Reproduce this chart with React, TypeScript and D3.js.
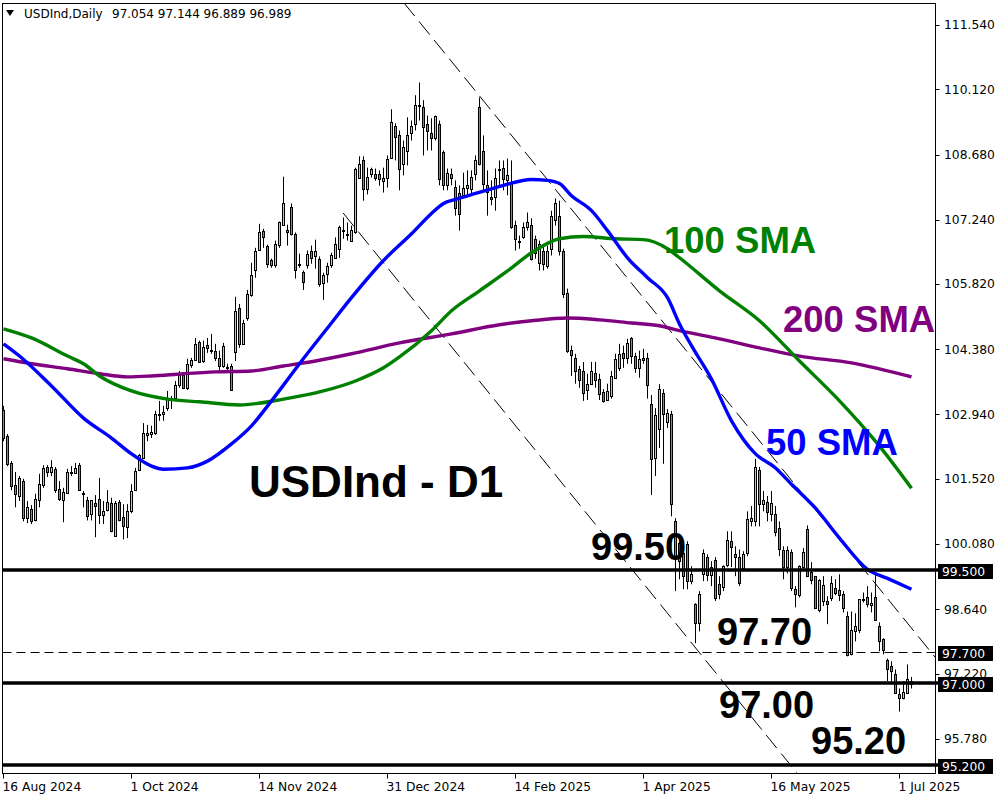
import React from 'react';
import * as d3 from 'd3';

// [open, high, low, close] per daily bar
const candles: [number, number, number, number][] = [
  [103.04,103.13,102.35,102.42],[102.46,102.51,101.80,101.85],[101.87,101.91,101.27,101.36],[101.38,101.67,100.89,101.19],
  [101.14,101.58,101.03,101.54],[101.47,101.52,100.58,100.65],[100.65,101.03,100.54,100.89],[100.85,100.94,100.52,100.58],
  [100.60,101.19,100.58,101.08],[101.05,101.63,100.89,101.40],[101.38,101.82,101.32,101.76],[101.78,101.82,101.56,101.67],
  [101.67,101.93,101.58,101.78],[101.74,101.78,101.21,101.27],[101.30,101.47,101.03,101.08],[101.05,101.32,100.56,101.23],
  [101.21,101.74,101.19,101.67],[101.67,101.80,101.58,101.66],[101.65,101.87,101.63,101.76],[101.82,101.87,101.25,101.27],
  [101.21,101.25,100.89,101.20],[101.05,101.12,100.60,100.69],[100.74,101.05,100.60,101.05],[100.98,101.16,100.23,100.92],
  [101.08,101.54,100.52,100.72],[100.72,101.03,100.52,100.80],[100.83,101.27,100.80,101.00],[100.98,101.10,100.34,100.36],
  [100.25,101.03,100.25,100.98],[101.00,101.05,100.58,100.60],[100.67,100.96,100.18,100.47],[100.45,100.96,100.21,100.80],
  [100.80,101.40,100.76,101.25],[101.27,101.76,101.25,101.69],[101.71,102.07,101.69,102.05],[101.98,102.75,101.96,102.53],
  [102.49,102.71,102.35,102.53],[102.51,102.69,102.42,102.55],[102.53,103.02,102.49,102.95],[102.95,103.24,102.80,102.96],
  [102.95,103.13,102.80,103.00],[103.08,103.46,103.02,103.31],[103.31,103.35,103.06,103.29],[103.31,103.68,103.24,103.59],
  [103.59,103.90,103.53,103.81],[103.81,103.86,103.50,103.53],[103.53,104.17,103.48,104.06],[104.04,104.19,103.97,104.15],
  [104.15,104.63,104.12,104.50],[104.54,104.57,104.08,104.10],[104.12,104.57,104.08,104.43],[104.48,104.63,104.30,104.41],
  [104.35,104.72,104.28,104.37],[104.35,104.50,104.12,104.19],[104.19,104.35,103.86,104.01],[104.01,104.52,103.97,104.46],
  [103.99,104.06,103.90,103.97],[104.01,104.06,103.48,103.48],[104.32,105.54,104.12,105.23],[105.30,105.38,104.41,104.50],
  [104.50,105.03,104.50,104.97],[105.08,105.69,105.01,105.60],[105.58,106.29,105.54,106.03],[106.14,106.62,105.96,106.56],
  [106.58,107.15,106.56,106.96],[107.00,107.04,106.62,106.85],[106.67,106.69,106.18,106.27],[106.34,106.38,106.18,106.23],
  [106.23,106.78,106.18,106.71],[106.69,107.20,106.62,107.18],[107.13,108.19,107.11,107.60],[107.02,107.13,106.67,106.98],
  [107.53,107.60,106.89,106.93],[106.93,106.96,105.94,106.14],[106.27,106.49,106.18,106.23],[106.09,106.12,105.69,105.87],
  [106.23,106.56,106.16,106.49],[106.56,106.67,106.27,106.40],[106.43,106.80,106.16,106.54],[106.38,106.43,105.76,105.82],
  [105.85,106.07,105.47,106.03],[106.05,106.29,105.85,106.21],[106.23,106.51,106.18,106.47],[106.40,106.85,106.38,106.71],
  [106.60,107.11,106.40,107.07],[107.00,107.29,106.82,107.02],[106.93,107.18,106.78,106.91],[106.78,107.11,106.76,107.02],
  [106.96,108.39,106.93,108.37],[108.17,108.64,108.15,108.48],[108.57,108.64,107.66,107.91],[107.91,108.39,107.80,108.19],
  [108.26,108.39,108.17,108.35],[108.26,108.37,108.10,108.17],[108.24,108.33,107.99,108.13],[108.10,108.39,107.84,108.17],
  [108.17,108.66,107.95,108.59],[108.61,109.68,108.59,109.39],[109.30,109.37,108.55,109.06],[109.12,109.21,107.89,108.37],
  [108.48,108.99,108.22,108.84],[108.75,109.50,108.44,109.12],[109.15,109.43,108.99,109.30],[109.35,109.99,109.21,109.77],
  [109.77,110.27,109.43,109.75],[109.72,109.88,108.66,109.28],[109.35,109.54,108.77,109.19],[109.15,109.48,108.77,109.04],
  [109.04,109.54,108.99,109.52],[109.35,109.43,108.00,108.13],[108.73,108.77,107.89,108.00],[108.00,108.37,107.89,108.28],
  [108.26,108.37,108.00,108.17],[107.97,108.11,107.33,107.49],[107.82,108.00,107.00,107.36],[107.78,108.28,107.71,107.93],
  [107.95,108.33,107.78,108.00],[107.91,108.33,107.78,108.19],[108.24,108.66,108.11,108.55],[109.74,109.94,108.44,108.48],
  [108.75,109.10,107.89,108.02],[108.00,108.33,107.33,107.86],[107.75,108.11,107.56,107.69],[107.75,108.37,107.44,108.17],
  [108.35,108.55,108.00,108.34],[108.39,108.55,107.89,108.13],[108.11,108.59,107.78,108.22],[108.06,108.55,107.04,107.09],
  [107.13,107.22,106.56,106.82],[106.78,106.89,106.60,106.76],[106.85,107.18,106.82,107.09],[107.07,107.40,107.00,107.20],
  [107.13,107.27,106.34,106.38],[106.82,106.89,106.38,106.51],[106.29,106.78,106.12,106.71],[106.56,106.67,106.12,106.27],
  [106.21,106.67,106.16,106.54],[106.60,107.44,106.45,107.33],[107.24,107.71,107.11,107.60],[107.33,107.66,106.45,106.56],
  [106.56,106.60,105.51,105.60],[105.63,105.72,104.30,104.35],[104.37,104.46,103.79,104.26],[104.19,104.28,103.62,103.90],
  [103.95,104.01,103.53,103.70],[103.90,104.10,103.24,103.42],[103.48,103.84,103.26,103.62],[103.62,104.10,103.59,103.90],
  [103.86,104.10,103.53,103.70],[103.73,103.84,103.26,103.40],[103.44,103.50,103.20,103.24],[103.26,103.62,103.24,103.46],
  [103.35,103.90,103.29,103.79],[103.75,104.28,103.73,104.17],[103.97,104.50,103.90,104.28],[104.30,104.46,103.97,104.19],
  [104.19,104.61,104.06,104.52],[104.63,104.65,104.06,104.23],[104.23,104.30,103.86,103.97],[103.97,104.35,103.75,104.17],
  [104.19,104.39,104.06,104.15],[104.19,104.30,103.29,103.59],[103.17,103.37,101.16,101.96],[101.98,103.08,101.58,102.93],
  [102.62,103.61,102.20,103.50],[103.42,103.50,101.85,102.95],[102.77,103.06,102.64,102.97],[102.95,103.02,100.69,100.96],
  [100.58,100.65,99.04,99.76],[100.10,100.14,99.30,99.70],[99.88,100.03,99.08,99.37],[100.08,100.14,99.08,99.26],
  [99.26,99.59,99.19,99.41],[98.75,98.77,97.89,98.33],[98.33,99.04,98.15,98.97],[99.41,99.96,99.26,99.88],
  [99.79,99.85,99.26,99.39],[99.39,99.70,99.15,99.57],[99.72,99.79,98.82,98.88],[99.19,99.37,98.86,98.97],
  [99.13,99.61,99.04,99.59],[99.61,100.36,99.57,100.16],[100.14,100.36,99.57,100.01],[99.85,100.03,99.37,99.79],
  [99.79,99.96,99.15,99.21],[99.54,99.92,99.48,99.85],[99.88,100.80,99.81,100.63],[100.58,100.92,100.47,100.65],
  [100.58,101.96,100.47,101.78],[101.71,101.78,100.47,100.96],[100.96,101.25,100.80,101.05],[101.00,101.14,100.58,100.78],
  [100.74,101.25,100.58,100.98],[100.74,100.92,100.25,100.34],[100.43,100.58,99.81,99.96],[99.94,100.03,99.30,99.57],
  [99.57,100.03,99.43,99.94],[99.90,99.96,99.04,99.10],[99.08,99.15,98.68,98.97],[98.95,99.61,98.90,99.59],
  [99.57,99.99,99.52,99.90],[100.41,100.49,99.35,99.37],[99.46,99.68,99.19,99.28],[99.37,99.37,98.66,98.66],
  [98.62,99.30,98.57,99.28],[98.82,99.37,98.71,99.17],[98.82,98.93,98.31,98.75],[98.88,99.37,98.82,99.21],
  [99.10,99.30,98.95,98.99],[99.06,99.41,98.82,98.95],[98.97,99.04,98.57,98.66],[98.48,98.59,97.60,97.62],
  [97.64,98.59,97.62,98.17],[98.15,98.55,97.93,98.28],[98.18,98.86,98.11,98.86],[98.84,99.01,98.79,98.86],
  [98.90,99.15,98.68,98.75],[98.73,99.01,98.57,98.77],[98.90,99.41,98.39,98.40],[98.26,98.35,97.71,97.93],
  [97.98,98.00,97.64,97.73],[97.51,97.55,97.05,97.33],[97.38,97.49,97.05,97.27],[97.20,97.31,96.78,96.78],
  [96.76,96.89,96.38,96.67],[96.67,97.05,96.65,96.82],[96.80,97.42,96.78,97.09],[97.054,97.144,96.889,96.989],
];

const dateTickBars = [0, 32, 64, 96, 128, 160, 192, 224];
const dateTickLabels = ['16 Aug 2024', '1 Oct 2024', '14 Nov 2024', '31 Dec 2024', '14 Feb 2025', '1 Apr 2025', '16 May 2025', '1 Jul 2025'];
const priceTicks = [111.54, 110.12, 108.68, 107.24, 105.82, 104.38, 102.94, 101.52, 100.08, 98.64, 97.22, 95.78];

const sma50Bars = [0, 4, 12, 20, 27, 32, 37, 40, 46, 51, 57, 62, 67, 74, 81, 87, 95, 102, 107, 110, 113, 118, 125, 132, 136, 139, 142, 147, 151, 156, 161, 166, 169, 172, 177, 182, 188, 193, 197, 203, 209, 216, 221, 227];
const sma50Vals = [104.50, 104.23, 103.57, 102.86, 102.42, 102.07, 101.80, 101.73, 101.76, 101.91, 102.29, 102.69, 103.24, 104.06, 104.85, 105.52, 106.34, 106.93, 107.38, 107.60, 107.69, 107.82, 108.00, 108.13, 108.11, 108.04, 107.77, 107.44, 107.00, 106.40, 105.96, 105.52, 104.94, 104.46, 103.72, 102.80, 102.07, 101.76, 101.40, 100.87, 100.21, 99.52, 99.32, 99.08];

const sma100Bars = [0, 7, 16, 20, 24, 32, 41, 49, 59, 70, 80, 88, 95, 99, 107, 112, 119, 126, 132, 139, 145, 153, 160, 166, 169, 179, 189, 199, 209, 219, 227];
const sma100Vals = [104.83, 104.63, 104.23, 104.06, 103.79, 103.46, 103.28, 103.22, 103.15, 103.28, 103.46, 103.68, 103.97, 104.21, 104.79, 105.23, 105.67, 106.11, 106.51, 106.82, 106.87, 106.82, 106.80, 106.60, 106.40, 105.67, 105.01, 104.12, 103.24, 102.24, 101.31];

const sma200Bars = [0, 7, 16, 24, 31, 37, 45, 53, 62, 70, 78, 87, 99, 112, 124, 132, 141, 149, 157, 164, 169, 179, 189, 199, 212, 227];
const sma200Vals = [104.17, 104.06, 103.95, 103.84, 103.77, 103.79, 103.84, 103.88, 103.90, 104.01, 104.12, 104.28, 104.52, 104.72, 104.92, 105.01, 105.07, 105.03, 104.96, 104.90, 104.79, 104.61, 104.41, 104.23, 104.08, 103.77];

const upperChannel: [number, number][] = [[100.1, 112.03], [232.9, 97.58]];
const lowerChannel: [number, number][] = [[84.9, 107.39], [198.4, 95.02]];

const solidLevels = [99.5, 97.0, 95.2];
const dashedLevels = [97.7];
const levelLabels = ['99.500', '97.700', '97.000', '95.200'];
const levelValues = [99.5, 97.7, 97.0, 95.2];

const header = 'USDInd,Daily';
const headerValues = '97.054 97.144 96.889 96.989';

const BULL = '#cad65a';
const BEAR = '#dc6a3c';

export default function App() {
  const W = 1000, H = 800;
  const left = 2.5, right = 935.5, top = 3.5, bottom = 773.5;
  const x = d3.scaleLinear().domain([0, 227]).range([3.5, 911.5]);
  const y = d3.scaleLinear().domain([95.2, 111.54]).range([765, 25]);

  const mk = (bars: number[], vals: number[]) =>
    d3.line<number>().x((_, i) => x(bars[i])).y((_, i) => y(vals[i])).curve(d3.curveMonotoneX)(vals) || '';

  const axisFont = "Tahoma, 'DejaVu Sans', sans-serif";
  const bigFont = "Arial, 'Liberation Sans', sans-serif";

  return (
    <svg width={W} height={H} style={{ position: 'absolute', left: 0, top: 0, background: '#fff' }}>
      <rect x={0} y={0} width={W} height={H} fill="#fff" />
      <defs>
        <clipPath id="plot">
          <rect x={left} y={top} width={right - left} height={bottom - top} />
        </clipPath>
      </defs>

      <g clipPath="url(#plot)">
        {candles.map((c, i) => {
          const [o, h, l, cl] = c;
          const cx = x(i);
          const bull = cl >= o;
          const yTop = Math.round(y(Math.max(o, cl)));
          const yBot = Math.round(y(Math.min(o, cl)));
          return (
            <g key={i}>
              <line x1={cx} x2={cx} y1={y(h)} y2={y(l)} stroke="#000" strokeWidth={1} />
              <rect x={cx - 1} y={yTop + 0.5} width={2} height={Math.max(yBot - yTop, 1)}
                fill={bull ? BULL : BEAR} stroke="#000" strokeWidth={1} />
            </g>
          );
        })}

        {[upperChannel, lowerChannel].map((seg, k) => (
          <line key={k} x1={x(seg[0][0])} y1={y(seg[0][1])} x2={x(seg[1][0])} y2={y(seg[1][1])}
            stroke="#000" strokeWidth={1} strokeDasharray="17,7" />
        ))}

        <path d={mk(sma200Bars, sma200Vals)} fill="none" stroke="#800080" strokeWidth={3.4} />
        <path d={mk(sma100Bars, sma100Vals)} fill="none" stroke="#008000" strokeWidth={3.4} />
        <path d={mk(sma50Bars, sma50Vals)} fill="none" stroke="#0000ff" strokeWidth={3.4} />

        {dashedLevels.map((v, k) => (
          <line key={'d' + k} x1={left} x2={right + 4} y1={Math.round(y(v)) + 0.5} y2={Math.round(y(v)) + 0.5}
            stroke="#000" strokeWidth={1} strokeDasharray="9,5" />
        ))}
      </g>
      {solidLevels.map((v, k) => (
        <line key={'s' + k} x1={left} x2={right + 4} y1={Math.round(y(v))} y2={Math.round(y(v))}
          stroke="#000" strokeWidth={3.5} />
      ))}

      <rect x={left} y={top} width={right - left} height={bottom - top} fill="none" stroke="#000" strokeWidth={1} />

      <path d="M6,10 L14,10 L10,16 Z" fill="#000" />
      <text x={24} y={18} fontFamily={axisFont} fontSize={12} fill="#000">{header}</text>
      <text x={112} y={18} fontFamily={axisFont} fontSize={12} fill="#000">{headerValues}</text>

      {priceTicks.map((v, k) => (
        <g key={k}>
          <line x1={right} x2={right + 4} y1={Math.round(y(v)) + 0.5} y2={Math.round(y(v)) + 0.5} stroke="#000" />
          <text x={944} y={y(v)} dy="0.36em" fontFamily={axisFont} fontSize={12.3} fill="#000">{v.toFixed(3)}</text>
        </g>
      ))}
      {levelValues.map((v, k) => (
        <g key={'lv' + k}>
          <rect x={938} y={Math.round(y(v)) - 6} width={55} height={15} fill="#000" />
          <text x={942} y={Math.round(y(v)) + 1.5} dy="0.36em" fontFamily={axisFont} fontSize={12.3} fill="#fff">{levelLabels[k]}</text>
        </g>
      ))}

      {dateTickBars.map((b, k) => (
        <g key={k}>
          <line x1={x(b)} x2={x(b)} y1={bottom} y2={bottom + 5} stroke="#000" />
          <text x={x(b) - 1} y={791} fontFamily={axisFont} fontSize={12.3} fill="#000">{dateTickLabels[k]}</text>
        </g>
      ))}

      <text x={249} y={497} fontFamily={bigFont} fontWeight="bold" fontSize={44} fill="#000">USDInd - D1</text>
      <text x={664} y={253} fontFamily={bigFont} fontWeight="bold" fontSize={36.5} fill="#008000">100 SMA</text>
      <text x={783} y={332} fontFamily={bigFont} fontWeight="bold" fontSize={36.5} fill="#800080">200 SMA</text>
      <text x={766} y={455} fontFamily={bigFont} fontWeight="bold" fontSize={36.5} fill="#0000ff">50 SMA</text>
      <text x={591} y={560} fontFamily={bigFont} fontWeight="bold" fontSize={38} fill="#000">99.50</text>
      <text x={717} y={645} fontFamily={bigFont} fontWeight="bold" fontSize={38} fill="#000">97.70</text>
      <text x={719} y={718} fontFamily={bigFont} fontWeight="bold" fontSize={38} fill="#000">97.00</text>
      <text x={811} y={754} fontFamily={bigFont} fontWeight="bold" fontSize={38} fill="#000">95.20</text>
    </svg>
  );
}
